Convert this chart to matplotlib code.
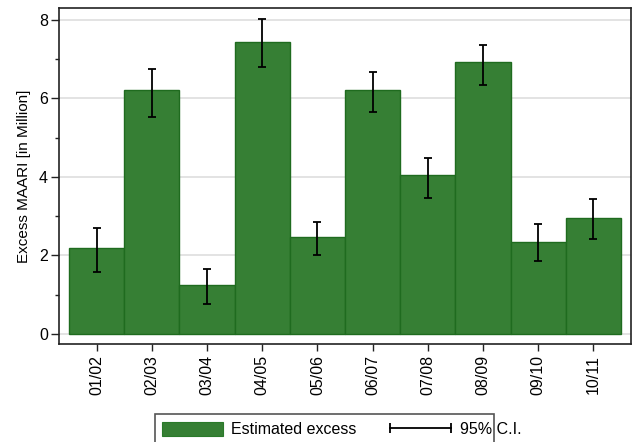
import matplotlib
matplotlib.use("Agg")
import matplotlib.pyplot as plt
from matplotlib.patches import Patch, Rectangle
from matplotlib.lines import Line2D
from matplotlib.legend_handler import HandlerLine2D
from matplotlib.ticker import MultipleLocator
import numpy as np

plt.rcParams['font.family'] = ['Liberation Sans', 'DejaVu Sans']

seasons = ["01/02", "02/03", "03/04", "04/05", "05/06", "06/07", "07/08", "08/09", "09/10", "10/11"]
excess = [2.18, 6.22, 1.25, 7.44, 2.46, 6.22, 4.05, 6.92, 2.35, 2.95]
ci_low = [1.57, 5.54, 0.76, 6.80, 2.01, 5.66, 3.46, 6.34, 1.86, 2.43]
ci_high = [2.71, 6.76, 1.66, 8.03, 2.85, 6.68, 4.49, 7.37, 2.79, 3.43]

bar_color = '#367f34'
edge_color = '#1f6b1f'

W, H = 632, 442
fig = plt.figure(figsize=(W / 100, H / 100), dpi=100)
ax = fig.add_axes([59 / W, 1 - 344 / H, (631 - 59) / W, (344 - 8) / H])

x = np.arange(len(seasons))
ex = np.array(excess)
lo = np.array(ci_low)
hi = np.array(ci_high)

ax.bar(x, ex, width=1.0, color=bar_color, edgecolor=edge_color, linewidth=1.0, zorder=2)
ax.errorbar(x, ex, yerr=[ex - lo, hi - ex], fmt='none', ecolor='black',
            elinewidth=1.3, capsize=3.2, capthick=1.3, zorder=3)

ax.set_xlim(-0.68, 9.68)
ax.set_ylim(-0.255, 8.305)
ax.set_xticks(x)
ax.set_xticklabels(seasons, rotation=90, fontsize=11.5)
ax.yaxis.set_major_locator(MultipleLocator(2))
ax.yaxis.set_minor_locator(MultipleLocator(1))
ax.tick_params(axis='y', which='major', length=6, width=1.0, labelsize=11.5, pad=2, colors='#222222')
ax.tick_params(axis='y', which='minor', length=3, width=1.0, colors='#222222')
ax.tick_params(axis='x', which='major', length=5, width=1.0, pad=3, colors='#222222')
ax.tick_params(labelcolor='black')

ax.yaxis.grid(True, which='major', color='#dedede', linewidth=1.2, zorder=0)
ax.set_axisbelow(True)

for s in ax.spines.values():
    s.set_linewidth(1.2)
    s.set_color('#222222')

ax.set_ylabel("Excess MAARI [in Million]", fontsize=11, labelpad=6)

# legend
handles = [Patch(facecolor=bar_color, edgecolor='#2a7a2a', linewidth=0.8),
           Line2D([], [], color='black', lw=1.3, marker='|', markersize=7, markeredgewidth=1.3)]
labels = ["Estimated excess", "95% C.I."]
leg = fig.legend(handles, labels, loc='center left', bbox_to_anchor=(162 / W, 1 - 429.5 / H),
                 ncol=2, frameon=False, borderpad=0, borderaxespad=0, fontsize=11.5,
                 handlelength=3.8, handleheight=1.0, handletextpad=0.55, columnspacing=2.1,
                 handler_map={handles[1]: HandlerLine2D(numpoints=2, marker_pad=0)})
fig.add_artist(Rectangle((155 / W, -0.05), (494 - 155) / W, 1 - 413.5 / H + 0.05,
                         transform=fig.transFigure, fill=False, edgecolor='#555555', linewidth=1.2))

fig.savefig("out.png", dpi=100)
